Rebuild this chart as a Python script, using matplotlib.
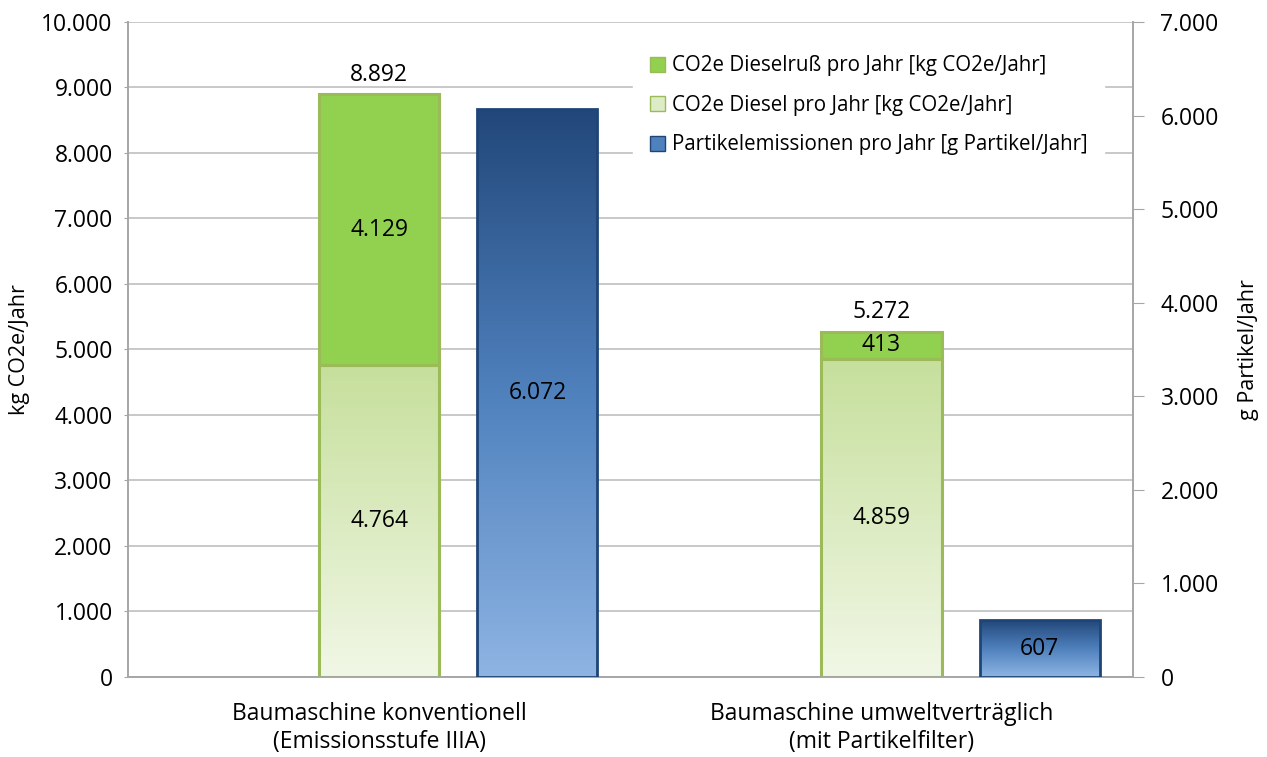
import numpy as np
import matplotlib
matplotlib.use("Agg")
import matplotlib.pyplot as plt
from matplotlib.patches import Rectangle, Patch
from matplotlib.colors import LinearSegmentedColormap
from matplotlib.ticker import FuncFormatter, MultipleLocator

plt.rcParams["font.family"] = ["Open Sans", "DejaVu Sans"]

# ---- data ----
categories = ["Baumaschine konventionell\n(Emissionsstufe IIIA)",
              "Baumaschine umweltverträglich\n(mit Partikelfilter)"]
co2_diesel = [4764, 4859]          # kg CO2e/Jahr
co2_russ = [4129, 413]             # kg CO2e/Jahr
co2_total = [8892, 5272]
partikel = [6072, 607]             # g Partikel/Jahr
series_names = ["CO2e Dieselruß pro Jahr [kg CO2e/Jahr]",
                "CO2e Diesel pro Jahr [kg CO2e/Jahr]",
                "Partikelemissionen pro Jahr [g Partikel/Jahr]"]


def de_fmt(v, _=None):
    return f"{int(round(v)):,}".replace(",", ".")


def gradient_bar(ax, x, bottom, height, width, cmap, edge, lw):
    rect = Rectangle((x - width / 2, bottom), width, height, facecolor="none",
                     edgecolor=edge, linewidth=lw, zorder=4)
    ax.add_patch(rect)
    grad = np.linspace(1, 0, 256).reshape(-1, 1)
    im = ax.imshow(grad, cmap=cmap, aspect="auto", zorder=3,
                   extent=(x - width / 2, x + width / 2, bottom, bottom + height),
                   interpolation="bicubic")
    im.set_clip_path(rect)
    return rect


light_green = LinearSegmentedColormap.from_list("lg", ["#F1F7E6", "#C6DF9C"])
blue = LinearSegmentedColormap.from_list("bl", ["#8EB4E3", "#4F81BD", "#22477A"])

fig = plt.figure(figsize=(12.67, 7.57), dpi=100)
ax = fig.add_axes([0.101, 0.1057, 0.793, 0.8653])
ax2 = ax.twinx()

centers = np.array([0.5, 1.5])
w = 0.239
off = 0.315
fs = 16.5

for i, c in enumerate(centers):
    gradient_bar(ax, c, 0, co2_diesel[i], w, light_green, "#9BBB59", 2.2)
    ax.add_patch(Rectangle((c - w / 2, co2_diesel[i]), w, co2_russ[i],
                           facecolor="#92D050", edgecolor="#9BBB59",
                           linewidth=2.2, zorder=4))
    gradient_bar(ax2, c + off, 0, partikel[i], w, blue, "#1F4577", 2.0)

    ax.text(c, co2_diesel[i] / 2, de_fmt(co2_diesel[i]), ha="center",
            va="center", fontsize=fs, zorder=6)
    ax.text(c, co2_diesel[i] + co2_russ[i] / 2, de_fmt(co2_russ[i]),
            ha="center", va="center", fontsize=fs, zorder=6)
    ax.text(c, co2_total[i] + 120, de_fmt(co2_total[i]), ha="center",
            va="bottom", fontsize=fs, zorder=6)
    ax2.text(c + off, partikel[i] / 2, de_fmt(partikel[i]), ha="center",
             va="center", fontsize=fs, zorder=6)

ax.set_xlim(0, 2)
ax.set_ylim(0, 10000)
ax2.set_ylim(0, 7000)
ax.yaxis.set_major_locator(MultipleLocator(1000))
ax2.yaxis.set_major_locator(MultipleLocator(1000))
ax.yaxis.set_major_formatter(FuncFormatter(de_fmt))
ax2.yaxis.set_major_formatter(FuncFormatter(de_fmt))
ax.grid(axis="y", color="#BFBFBF", linewidth=1.2, zorder=0)
ax.set_axisbelow(True)

ax.set_xticks(centers)
ax.set_xticklabels(categories, fontsize=16.5)
ax.tick_params(axis="x", which="major", length=0, pad=18)
ax.tick_params(axis="y", labelsize=16.5, length=3, color="#A6A6A6", pad=8)
ax2.tick_params(axis="y", labelsize=16.5, length=8, color="#A6A6A6", pad=12)

for a in (ax, ax2):
    for s in a.spines.values():
        s.set_color("#A6A6A6")
        s.set_linewidth(1.2)
    a.spines["top"].set_visible(False)

ax.set_ylabel("kg CO2e/Jahr", fontsize=15.5, labelpad=8)
ax2.set_ylabel("g Partikel/Jahr", fontsize=15.5, labelpad=14)

handles = [Patch(facecolor="#92D050", edgecolor="#9BBB59"),
           Patch(facecolor="#DDEBC6", edgecolor="#9BBB59"),
           Patch(facecolor="#4F81BD", edgecolor="#1F4577")]
leg = ax2.legend(handles, series_names, loc="upper right",
                 bbox_to_anchor=(0.982, 0.99), fontsize=14.8, frameon=True,
                 framealpha=1, edgecolor="white", fancybox=False,
                 handlelength=0.75, handleheight=0.75, handletextpad=0.35,
                 labelspacing=0.9, borderpad=0.8)
leg.set_zorder(10)

fig.savefig("out.png", dpi=100)
